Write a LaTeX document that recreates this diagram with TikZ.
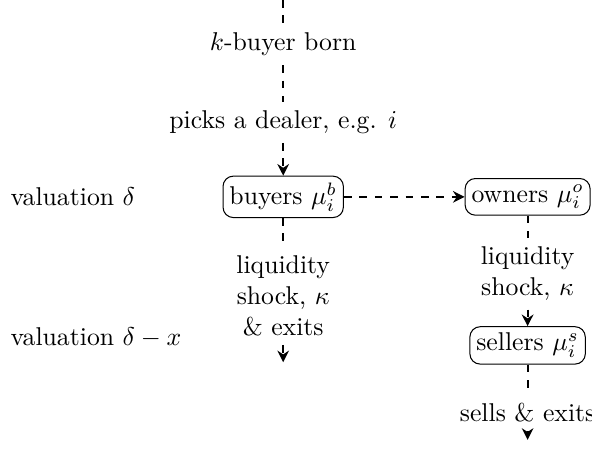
\documentclass[tikz,border=0pt]{standalone}
\usetikzlibrary{positioning,arrows.meta}

\tikzset{etat/.style={draw,rounded corners=4pt,inner sep=2.5pt},
trait/.style={thick,dashed},
fleche/.style={thick,dashed,-{Stealth[length=4.5pt,width=4.5pt]}}}

\begin{document}
\begin{tikzpicture}
\useasboundingbox (0,0) rectangle (8.09,-6.15);
\coordinate (debut) at (3.87,0);
\node (ne) at (3.87,-0.61) {$k$-buyer born};
\node (choix) at (3.87,-1.67) {picks a dealer, e.g. $i$};
\node [etat] (acheteurs) at (3.87,-2.69) {buyers $\mu_i^b$};
\node [etat] (proprio) at (7.21,-2.69) {owners $\mu_i^o$};
\node [etat] (vendeurs) at (7.21,-4.72) {sellers $\mu_i^s$};
%% sorties
\node [align=center] (choc) at (3.87,-4.04) {liquidity\\shock, $\kappa$\\\& exits};
\coordinate (fin1) at (3.87,-4.95);
\node [align=center] (choc2) at (7.21,-3.74) {liquidity\\shock, $\kappa$};
\node (vend) at (7.21,-5.64) {sells \& exits};
\coordinate (fin2) at (7.21,-6.01);
%% valuations
\node [anchor=west] (val1) at (0.02,-2.69) {valuation $\delta$};
\node [anchor=west] (val2) at (0.02,-4.62) {valuation $\delta-x$};

\draw [trait] (debut) -- (ne);
\draw [trait] (ne) -- (choix);
\draw [fleche] (choix) -- (acheteurs);
\draw [fleche] (acheteurs) -- (proprio);
\draw [trait] (acheteurs) -- (choc);
\draw [fleche] (choc) -- (fin1);
\draw [trait] (proprio) -- (choc2);
\draw [fleche] (choc2) -- (vendeurs);
\draw [trait] (vendeurs) -- (vend);
\draw [fleche] (vend) -- (fin2);
\end{tikzpicture}
\end{document}
